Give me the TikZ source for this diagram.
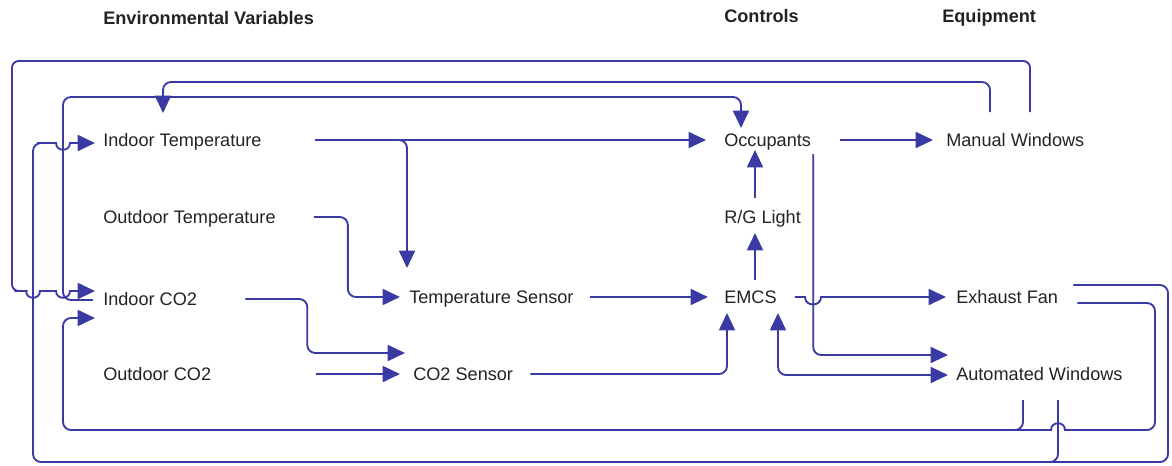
\documentclass[tikz,border=0pt]{standalone}
\usepackage{fontspec}
\setmainfont{Liberation Sans}
\usetikzlibrary{arrows.meta,calc}
\definecolor{flowblue}{RGB}{58,58,165}
\definecolor{ink}{RGB}{35,35,35}

\begin{document}
\begin{tikzpicture}[x=0.75pt, y=-0.75pt,
	var/.style={anchor=west, inner sep=0pt, text height=11pt, text depth=1pt, text=ink, font=\fontsize{13.6}{16}\selectfont},
	head/.style={var, font=\fontsize{13.6}{16}\selectfont\bfseries},
	wire/.style={draw=flowblue, line width=1.4pt, rounded corners=6pt},
	flow/.style={wire, -{Triangle[length=13pt,width=12pt]}}]
	\useasboundingbox (0,0) rectangle (1172,465);

	\node[head] (hvar) at (103,18) {Environmental Variables};
	\node[head] (hctl) at (724,16) {Controls};
	\node[head] (hequ) at (942,16) {Equipment};

	\node[var] (itemp) at (103,140) {Indoor Temperature};
	\node[var] (otemp) at (103,217) {Outdoor Temperature};
	\node[var] (ico2) at (103,299) {Indoor CO2};
	\node[var] (oco2) at (103,374) {Outdoor CO2};
	\node[var] (tsens) at (409,297) {Temperature Sensor};
	\node[var] (csens) at (413,374) {CO2 Sensor};
	\node[var] (occ) at (724,140) {Occupants};
	\node[var] (light) at (724,217) {R/G Light};
	\node[var] (emcs) at (724,297) {EMCS};
	\node[var] (mwin) at (946,140) {Manual Windows};
	\node[var] (fan) at (956,297) {Exhaust Fan};
	\node[var] (awin) at (956,374) {Automated Windows};

	% sensors and controls
	\draw[flow] ($(itemp.east)+(53,0)$) -- ($(occ.west)+(-18,0)$);
	\draw[flow] ($(itemp.east)+(53,0)$) -| ($(tsens.west)+(-2,-29)$);
	\draw[flow] ($(otemp.east)+(38,0)$) -- ++(34,0) |- ($(tsens.west)+(-9,0)$);
	\draw[flow] ($(ico2.east)+(48,0)$) -- ++(62,0) |- ($(csens.west)+(-8,-21)$);
	\draw[flow] ($(oco2.east)+(105,0)$) -- ($(csens.west)+(-13,0)$);
	\draw[flow] ($(tsens.east)+(16,0)$) -- ($(emcs.west)+(-16,0)$);
	\draw[flow] ($(csens.east)+(17,0)$) -| ($(emcs.west)+(3,16)$);
	\draw[flow] ($(emcs.west)+(31,-17)$) -- ($(light.west)+(31,16)$);
	\draw[flow] ($(light.west)+(31,-19)$) -- ($(occ.west)+(31,10)$);
	\draw[flow] ($(occ.east)+(29,0)$) -- ($(mwin.west)+(-13,0)$);
	\draw[flow] ($(occ.east)+(2,14)$) |- ($(awin.west)+(-8,-19)$);
	\draw[flow, sharp corners] ($(emcs.east)+(18,0)$) -- (805,297) .. controls (805,307) and (821,307) .. (821,297) -- ($(fan.west)+(-10,0)$);
	\draw[flow, {Triangle[length=13pt,width=12pt]}-{Triangle[length=13pt,width=12pt]}] ($(emcs.west)+(54,16)$) |- ($(awin.west)+(-8,1)$);

	% feedback to the environment
	\draw[flow, rounded corners=5pt] ($(mwin.west)+(84,-28)$) |- (12,61) |- (21,291) [sharp corners] -- (26,291)
		.. controls (26,300) and (40,300) .. (40,291) -- (56,291)
		.. controls (56,300) and (70,300) .. (70,291) -- ($(ico2.west)+(-8,-8)$);
	\draw[flow] ($(mwin.west)+(44,-28)$) |- (163,82) -- ($(itemp.west)+(60,-27)$);
	\draw[flow] ($(ico2.west)+(-10,1)$) -| (63,97) -| ($(occ.west)+(17,-12)$);
	\draw[flow] ($(fan.east)+(15,-12)$) -| (1168,462) -| (33,143) -- (45,143) [sharp corners] -- (56,143)
		.. controls (56,152) and (70,152) .. (70,143) -- ($(itemp.west)+(-8,3)$);
	\draw[wire] ($(awin.west)+(102,26)$) |- (1040,462);
	\draw[flow] ($(fan.east)+(19,6)$) -| (1155,430) -- (1075,430) [sharp corners] -- (1065,430)
		.. controls (1065,421) and (1051,421) .. (1051,430) -- (1045,430) [rounded corners=6pt] -- (63,430) |- ($(ico2.west)+(-8,19)$);
	\draw[wire] ($(awin.west)+(67,26)$) |- (1005,430);
\end{tikzpicture}
\end{document}
